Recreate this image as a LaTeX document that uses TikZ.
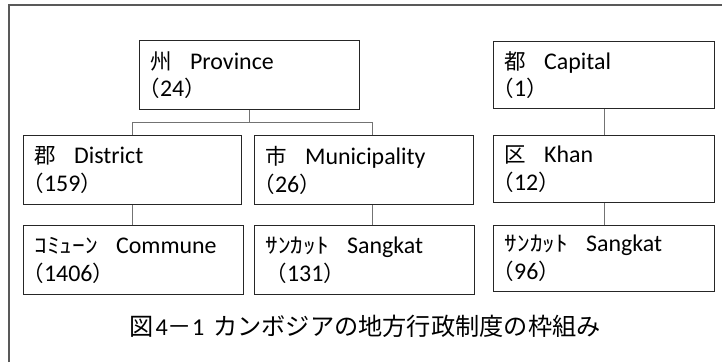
\documentclass[tikz,border=0pt]{standalone}
\usepackage{fontspec}
\setmainfont{Carlito}
\newfontfamily\jpf[Scale=0.9]{Noto Sans CJK JP}
\newfontfamily\jph[Scale=0.9,FakeStretch=1.18]{Noto Sans CJK JP}
\newfontfamily\jpttl{Noto Sans CJK JP}
\newcommand{\jpt}[1]{{\jpf #1}}
\newcommand{\jhw}[1]{{\jph #1}}
\newcommand{\lp}{\hspace{-12bp}\jpt{（}}
\newcommand{\rp}{\jpt{）}}
\usetikzlibrary{calc}
\begin{document}
\begin{tikzpicture}[x=1bp,y=-1bp,
  box/.style={draw=black!85, line width=1.2bp, anchor=north west, inner xsep=11bp, inner ysep=0pt,
    align=left, font=\fontsize{24}{28}\selectfont, text=black},
  conn/.style={draw=black!55, line width=0.8bp},
  frame/.style={draw=black!65, line width=1.6bp},
  ttl/.style={font=\fontsize{24.3}{28}\selectfont, text=black}]
\useasboundingbox (0,0) rectangle (722,362);
\draw[frame] (9,362) -- (9,5) -- (722,5);
% top row
\node[box, minimum width=220bp, minimum height=69bp, text width=198bp] (prov) at (139,40)
  {\jpt{州}\hspace{18bp}Province\\\lp 24\rp};
\node[box, minimum width=221bp, minimum height=67bp, text width=199bp] (cap) at (493,41)
  {\jpt{都}\hspace{18bp}Capital\\\lp 1\rp};
% middle row
\node[box, minimum width=218bp, minimum height=69bp, text width=196bp] (dist) at (23,135)
  {\jpt{郡}\hspace{18bp}District\\\lp 159\rp};
\node[box, minimum width=219bp, minimum height=69bp, text width=197bp] (muni) at (254,135)
  {\jpt{市}\hspace{18bp}Municipality\\\lp 26\rp};
\node[box, minimum width=221bp, minimum height=67bp, text width=199bp] (khan) at (493,135)
  {\jpt{区}\hspace{18bp}Khan\\\lp 12\rp};
% bottom row
\node[box, minimum width=220bp, minimum height=69bp, text width=198bp] (comm) at (23,225)
  {\jhw{ｺﾐｭｰﾝ}\hspace{18bp}Commune\\\lp 1406\rp};
\node[box, minimum width=220bp, minimum height=69bp, text width=198bp] (sk1) at (254,225)
  {\jhw{ｻﾝｶｯﾄ}\hspace{18bp}Sangkat\\\jpt{（}131\rp};
\node[box, minimum width=221bp, minimum height=66bp, text width=199bp] (sk2) at (493,225)
  {\jhw{ｻﾝｶｯﾄ}\hspace{18bp}Sangkat\\\lp 96\rp};
% connectors
\coordinate (j) at ($(prov.south)+(0,12)$);
\draw[conn] (prov.south) -- (j);
\draw[conn] (dist.north) -- (dist.north |- j) -- ([xshift=8.5bp]muni.north |- j) -- ([xshift=8.5bp]muni.north);
\draw[conn] (dist.south) -- (dist.south |- comm.north);
\draw[conn] ([xshift=8.5bp]muni.south) -- ([xshift=8.5bp]muni.south |- sk1.north);
\draw[conn] (cap.south) -- (khan.north);
\draw[conn] (khan.south) -- (sk2.north);
% title
\node[ttl] (title) at (365,326) {{\jpttl 図}\hspace{2bp}4{\jpttl －}1\hspace{9bp}{\jpttl カンボジアの地方行政制度の枠組み}};
\end{tikzpicture}
\end{document}
